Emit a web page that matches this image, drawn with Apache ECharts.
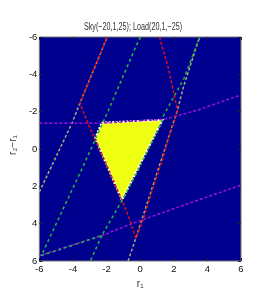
<!DOCTYPE html>
<html><head><meta charset="utf-8">
<script src="https://cdn.jsdelivr.net/npm/echarts@6/dist/echarts.min.js"></script>
<style>html,body{margin:0;padding:0;background:#fff}#c{width:273px;height:300px}</style>
</head><body><div id="c"></div>
<script>
var titleText = 'Sky(\u221220,1,25); Load(20,1,\u221225)';
var xName = 'r\u2081';
var yName = 'r\u2082\u2212r\u2081';
var axisMin = -6, axisMax = 6, tickStep = 2;

var greyLeft = [[-6.00,2.30],[-4.06,-1.38],[-3.59,-2.45],[-1.96,-6.00]];
var greyRight = [[-0.72,6.00],[-0.26,4.78],[2.22,-2.09],[2.61,-3.43],[3.53,-6.00]];
var redCurve = [[-1.96,-6.00],[-3.59,-2.45],[-2.94,-1.02],[-2.67,-0.54],[-1.06,2.79],[-0.72,3.54],[-0.26,4.78],
  [0.21,3.71],[0.72,2.20],[1.32,0.59],[1.68,-0.57],[2.02,-1.46],[2.22,-2.09],[1.68,-4.32],[1.15,-6.00]];
var greenCurve = [[0.02,-6.00],[-0.26,-5.48],[-1.98,-1.88],[-3.50,1.13],[-4.06,2.20],[-5.82,5.59],[-5.89,5.71],
  [-2.29,4.64],[-1.06,2.73],[-0.17,1.22],[1.32,-1.55],[1.41,-1.82],[2.61,-3.79],[3.55,-6.00]];
var greenTail = [[-2.29,4.64],[-2.96,6.00]];
var magentaUpper = [[-6.00,-1.38],[-2.29,-1.38],[1.41,-1.59],[3.44,-2.09],[6.00,-2.90]];
var magentaLower = [[-6.00,5.71],[-2.29,4.64],[-0.17,3.89],[6.00,1.93]];
var feasibleRegion = [[-2.29,-1.41],[1.32,-1.55],[-1.09,2.73],[-2.67,-0.57]];

var FONT = '"Liberation Sans",Arial,sans-serif';
function dashed(data, color, dash, w) {
  return {type:'line', data:data, symbol:'none', silent:true, clip:true, xAxisIndex:0, yAxisIndex:0,
    lineStyle:{color:color, width:w||1.5, type:dash||[3,2]}};
}
var chart = echarts.init(document.getElementById('c'), null, {renderer:'canvas'});
var labelStyle = {fontFamily:FONT, fontSize:9.5, color:'#111'};
var tick = {show:true, inside:true, length:3, lineStyle:{color:'#222'}};
var noLine = {show:false, onZero:false};
chart.setOption({
  animation:false,
  backgroundColor:'#fff',
  graphic:[{type:'text', x:133, y:27, scaleX:0.72, silent:true,
    style:{text:titleText, x:0, y:0, align:'center', verticalAlign:'middle',
      fontFamily:FONT, fontSize:10, fill:'#333'}}],
  grid:{left:25, right:32, top:37, bottom:39, show:true, backgroundColor:'#00008f', borderColor:'#777', borderWidth:1},
  xAxis:[{type:'value', min:axisMin, max:axisMax, interval:tickStep, position:'bottom',
      name:xName, nameLocation:'middle', nameGap:17, nameTextStyle:{fontFamily:FONT, fontSize:10, color:'#333'},
      axisLine:noLine, splitLine:{show:false}, axisTick:tick,
      axisLabel:Object.assign({margin:3}, labelStyle)},
    {type:'value', min:axisMin, max:axisMax, interval:tickStep, position:'top',
      axisLine:noLine, splitLine:{show:false}, axisLabel:{show:false}, axisTick:tick}],
  yAxis:[{type:'value', min:axisMin, max:axisMax, interval:tickStep, inverse:true, position:'left',
      name:yName, nameLocation:'middle', nameGap:14, nameRotate:90,
      nameTextStyle:{fontFamily:FONT, fontSize:10, color:'#333', padding:[0,0,0,8]},
      axisLine:noLine, splitLine:{show:false}, axisTick:tick,
      axisLabel:Object.assign({margin:2}, labelStyle)},
    {type:'value', min:axisMin, max:axisMax, interval:tickStep, inverse:true, position:'right',
      axisLine:noLine, splitLine:{show:false}, axisLabel:{show:false}, axisTick:tick}],
  series:[
    {type:'custom', silent:true, xAxisIndex:0, yAxisIndex:0, data:feasibleRegion,
      renderItem:function(params, api){
        if (params.dataIndex !== 0) return null;
        var pts = feasibleRegion.map(function(p){ return api.coord(p); });
        return {type:'polygon', shape:{points:pts},
          style:{fill:'#eeff11', stroke:'#ffffff', lineWidth:2.2, lineDash:[2,1.5]}};
      }},
    dashed(greyLeft, '#a8a878'),
    dashed(greyRight, '#a8a878'),
    dashed(magentaUpper, '#9a10d8'),
    dashed(magentaLower, '#9a10d8'),
    dashed(redCurve, '#e01010'),
    dashed(greenCurve, '#22b840', [3,3]),
    dashed(greenTail, '#22b840', [3,3])
  ]
});
</script></body></html>
